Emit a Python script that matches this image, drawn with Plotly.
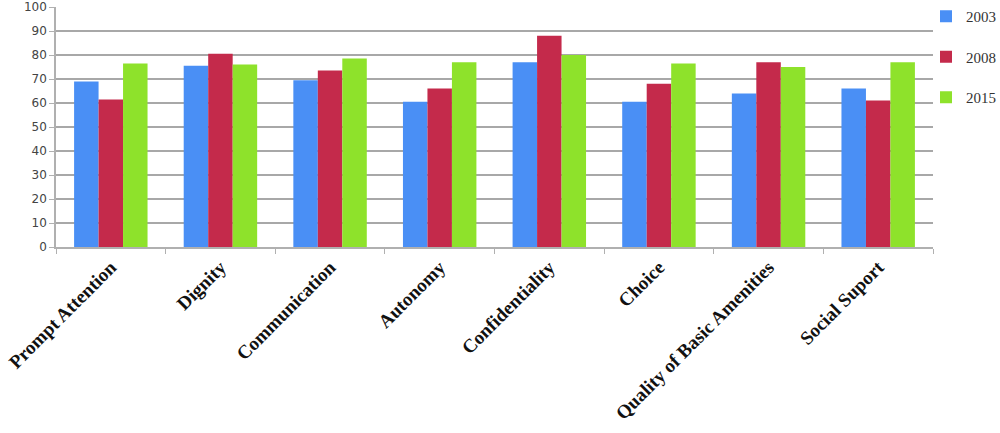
import plotly.graph_objects as go

categories = ["Prompt Attention", "Dignity", "Communication", "Autonomy",
              "Confidentiality", "Choice", "Quality of Basic Amenities", "Social Suport"]
years = ["2003", "2008", "2015"]
v2003 = [69, 75.5, 69.5, 60.5, 77, 60.5, 64, 66]
v2008 = [61.5, 80.5, 73.5, 66, 88, 68, 77, 61]
v2015 = [76.5, 76, 78.5, 77, 80, 76.5, 75, 77]
colors = ["#4a8ff5", "#c42a4b", "#8ee22b"]

fig = go.Figure()
for i, (name, vals) in enumerate(zip(years, [v2003, v2008, v2015])):
    fig.add_trace(go.Bar(x=categories, y=vals, name=name, marker_color=colors[i],
                         marker_line_width=0, legendgroup=name))

fig.update_layout(
    width=1000, height=433,
    margin=dict(l=56, r=67, t=7, b=186, autoexpand=False),
    plot_bgcolor="white", paper_bgcolor="white",
    barmode="group", bargap=0.33, bargroupgap=0,
    font=dict(family="Liberation Serif", color="#333333", size=13),
    legend=dict(xref="container", yref="container", x=0.926, y=1.024,
                xanchor="left", yanchor="top",
                font=dict(family="Liberation Serif", size=15, color="#333333"),
                tracegroupgap=18, itemwidth=30, bgcolor="rgba(0,0,0,0)"),
    showlegend=True,
)
fig.update_yaxes(range=[0, 100], dtick=10, showgrid=True, gridcolor="#a8a8a8", gridwidth=1.5,
                 showline=True, linecolor="#b0b0b0", linewidth=1.5,
                 ticks="outside", ticklen=5, tickcolor="#b0b0b0",
                 tickfont=dict(family="DejaVu Sans", size=12, color="#444444"),
                 ticklabeloverflow="allow",
                 zeroline=False, automargin=False)
fig.update_xaxes(showline=True, linecolor="#b0b0b0", linewidth=1.5,
                 ticks="outside", ticklen=5, tickcolor="#b0b0b0", tickson="boundaries",
                 tickangle=-45, automargin=False, ticklabeloverflow="allow",
                 tickfont=dict(family="Liberation Serif", size=19, color="#111111", weight="bold"))

fig.write_html("out.html", config={"displayModeBar": False},
               post_script="document.body.style.margin='0';document.body.style.overflow='hidden';")
